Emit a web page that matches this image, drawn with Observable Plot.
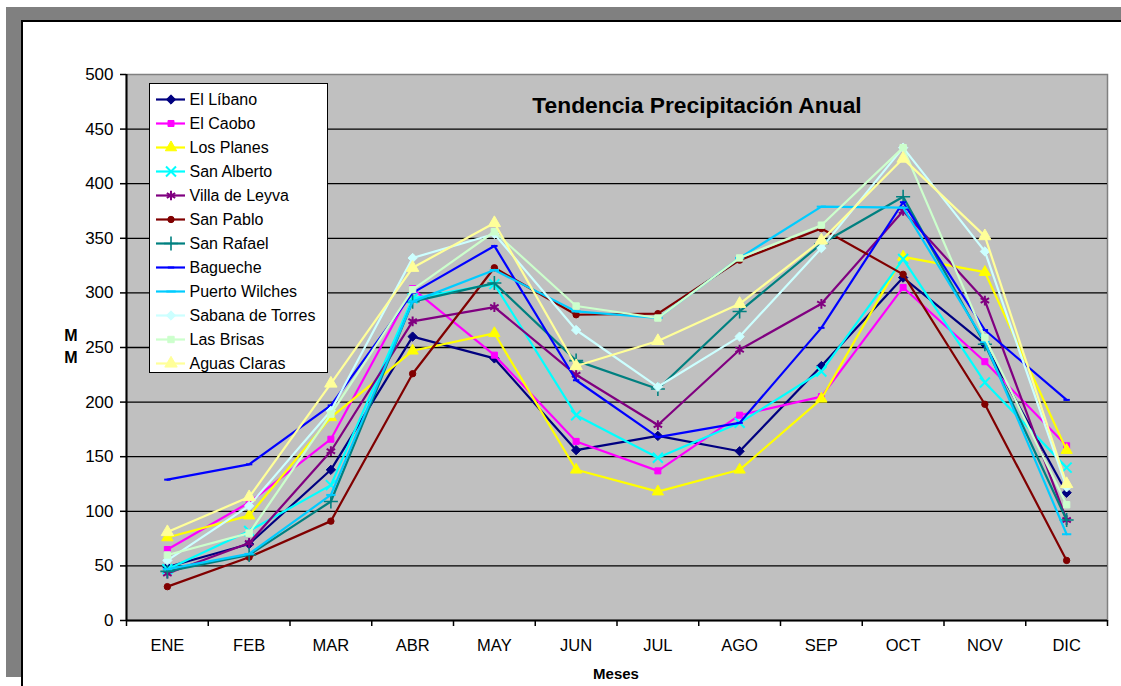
<!DOCTYPE html>
<html><head><meta charset="utf-8">
<script src="https://cdn.jsdelivr.net/npm/d3@7"></script>
<script src="https://cdn.jsdelivr.net/npm/@observablehq/plot@0.6"></script>
<style>
body{margin:0;background:#fff;font-family:"Liberation Sans",Arial,sans-serif;overflow:hidden;width:1121px;height:686px;}
#shadow{position:absolute;left:6px;top:7px;width:1200px;height:670px;background:#808080;}
#box{position:absolute;left:21px;top:20px;width:1200px;height:800px;background:#fff;border:2px solid #000;}
#chart{position:absolute;left:0;top:0;}
#legend{position:absolute;left:149px;top:83px;width:177px;height:288px;border:1.5px solid #000;background:#fff;}
#legend svg{display:block;}
.lbl{position:absolute;font-weight:bold;color:#000;text-align:center;white-space:nowrap;}
#title{left:447px;width:500px;top:94px;font-size:22.8px;line-height:1;}
#ylab{left:56px;width:30px;top:325px;font-size:16px;line-height:22px;}
#xlab{left:516px;width:200px;top:663px;font-size:15px;line-height:22px;}
</style></head><body>
<div id="shadow"></div><div id="box"></div>
<div id="chart"></div>
<div class="lbl" id="title">Tendencia Precipitación Anual</div>
<div class="lbl" id="ylab">M<br>M</div>
<div class="lbl" id="xlab">Meses</div>
<div id="legend"></div>
<script>
const months = ["ENE","FEB","MAR","ABR","MAY","JUN","JUL","AGO","SEP","OCT","NOV","DIC"];
const yTicks = [0,50,100,150,200,250,300,350,400,450,500];
const seriesNames = ["El Líbano","El Caobo","Los Planes","San Alberto","Villa de Leyva","San Pablo","San Rafael","Bagueche","Puerto Wilches","Sabana de Torres","Las Brisas","Aguas Claras"];
const seriesColors = ["#000080","#FF00FF","#FFFF00","#00FFFF","#800080","#800000","#008080","#0000FF","#00CCFF","#CCFFFF","#CCFFCC","#FFFF99"];

const elLibano      = [49, 70, 138, 260, 240, 156, 169, 155, 233, 314, 253, 117];
const elCaobo       = [65, 108, 166, 304, 243, 164, 137, 188, 205, 305, 237, 160];
const losPlanes     = [76, 96, 186, 247, 263, 138, 118, 138, 203, 333, 319, 156];
const sanAlberto    = [47, 82, 124, 295, 308, 188, 149, 181, 228, 331, 218, 140];
const villaDeLeyva  = [43, 71, 155, 274, 287, 225, 179, 248, 290, 375, 293, 92];
const sanPablo      = [31, 58, 91, 226, 323, 280, 281, 330, 359, 317, 198, 55];
const sanRafael     = [45, 60, 109, 292, 309, 238, 212, 283, 345, 388, 253, 92];
const bagueche      = [129, 143, 197, 300, 343, 220, 168, 181, 268, 383, 266, 202];
const puertoWilches = [47, 61, 115, 292, 321, 283, 277, 332, 379, 378, 255, 79];
const sabanaTorres  = [55, 105, 192, 332, 354, 266, 214, 260, 341, 433, 338, 122];
const lasBrisas     = [60, 80, 189, 303, 356, 288, 277, 332, 362, 433, 259, 106];
const aguasClaras   = [81, 113, 217, 323, 364, 233, 256, 290, 348, 423, 352, 125];

const seriesValues = [elLibano, elCaobo, losPlanes, sanAlberto, villaDeLeyva, sanPablo, sanRafael, bagueche, puertoWilches, sabanaTorres, lasBrisas, aguasClaras];

function dash(halfWidth){
  return {draw(ctx, size){ const w = Math.sqrt(size) * halfWidth; ctx.moveTo(-w, 0); ctx.lineTo(w, 0); }};
}
// marker style per series
const markers = [
  {symbol:"diamond2", r:4.2, fill:true, sw:1},
  {symbol:"square", r:3.4, fill:true, sw:1},
  {symbol:"triangle", r:4.2, fill:true, sw:1},
  {symbol:"times", r:4.6, fill:false, sw:2},
  {symbol:"asterisk", r:4.6, fill:false, sw:2},
  {symbol:"circle", r:3.2, fill:true, sw:1},
  {symbol:"plus", r:4.6, fill:false, sw:1.6},
  {symbol:dash(0.6), r:3, fill:false, sw:2},
  {symbol:dash(0.75), r:3.5, fill:false, sw:2},
  {symbol:"diamond2", r:4.2, fill:true, sw:1},
  {symbol:"square", r:3.6, fill:true, sw:1},
  {symbol:"triangle", r:4.6, fill:true, sw:1}
];

const table = seriesNames.map((name, i) =>
  months.map((m, j) => ({serie: name, mes: m, pos: j + 0.5, v: seriesValues[i][j]})));

const seriesMarks = [];
table.forEach((rows, i) => {
  const c = seriesColors[i], mk = markers[i];
  seriesMarks.push(Plot.line(rows, {x: "pos", y: "v", stroke: c, strokeWidth: 2.2}));
  seriesMarks.push(Plot.dot(rows, {x: "pos", y: "v", symbol: mk.symbol, r: mk.r,
    fill: mk.fill ? c : "none", stroke: c, strokeWidth: mk.sw}));
});

const chart = Plot.plot({
  width: 1121, height: 686,
  marginLeft: 126, marginRight: 14, marginTop: 74, marginBottom: 66,
  style: {background: "transparent", fontFamily: "'Liberation Sans', Arial, sans-serif", fontSize: "17px", color: "#000", overflow: "visible"},
  x: {domain: [0, months.length], axis: null},
  y: {domain: [0, 500], axis: null},
  marks: [
    Plot.frame({fill: "#C0C0C0", stroke: "#808080", strokeWidth: 1.5}),
    Plot.ruleY(yTicks.filter(d => d > 0 && d < 500), {stroke: "#000", strokeWidth: 1.3}),
    ...seriesMarks,
    Plot.ruleX([0], {stroke: "#000", strokeWidth: 2}),
    Plot.ruleY([0], {stroke: "#000", strokeWidth: 2}),
    Plot.axisY({ticks: yTicks, tickSize: 6, tickPadding: 7, tickFormat: d => String(d), label: null, fontSize: 17, stroke: "#000", strokeWidth: 1.5}),
    Plot.axisX({ticks: d3.range(months.length + 1), tickSize: 6, tickFormat: () => "", label: null, stroke: "#000", strokeWidth: 1.5}),
    Plot.axisX({ticks: months.map((m, j) => j + 0.5), tickSize: 0, tickPadding: 19, tickFormat: d => months[Math.floor(d)], label: null, fontSize: 16.5})
  ]
});
document.getElementById("chart").append(chart);

// legend
const legendRows = seriesNames.map((name, i) => ({name, i}));
const legendMarks = [
  Plot.ruleY(legendRows, {y: "name", x1: 6, x2: 35, stroke: d => seriesColors[d.i], strokeWidth: 2.2})
];
legendRows.forEach(d => {
  const mk = markers[d.i], c = seriesColors[d.i];
  legendMarks.push(Plot.dot([d], {y: "name", x: 20.5, symbol: mk.symbol, r: mk.r, fill: mk.fill ? c : "none", stroke: c, strokeWidth: mk.sw}));
});
legendMarks.push(Plot.text(legendRows, {y: "name", x: 39, text: "name", textAnchor: "start", fontSize: 16, fill: "#000"}));
const legend = Plot.plot({
  width: 177, height: 288,
  marginLeft: 0, marginRight: 0, marginTop: 11.5, marginBottom: 6,
  style: {background: "#fff", fontFamily: "'Liberation Sans', Arial, sans-serif", color: "#000", overflow: "visible"},
  x: {type: "linear", domain: [0, 177], range: [0, 177], axis: null},
  y: {type: "point", domain: seriesNames, padding: 0, axis: null},
  marks: legendMarks
});
document.getElementById("legend").append(legend);
</script>
</body></html>
